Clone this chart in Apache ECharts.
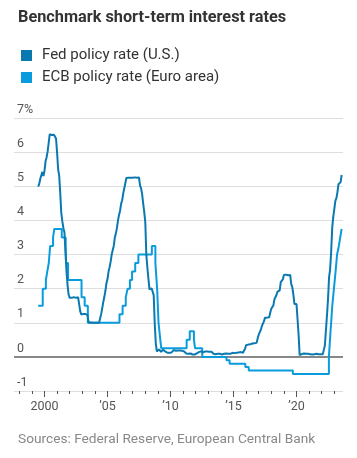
<!DOCTYPE html>
<html>
<head>
<meta charset="utf-8">
<script src="https://cdn.jsdelivr.net/npm/echarts@6/dist/echarts.min.js"></script>
<style>
html,body{margin:0;padding:0;background:#fff;}
#chart{width:357px;height:458px;}
</style>
</head>
<body>
<div id="chart"></div>
<script>
// ---- Data ----
const titleText = 'Benchmark short-term interest rates';
const sourceText = 'Sources: Federal Reserve, European Central Bank';
const seriesNames = ['Fed policy rate (U.S.)', 'ECB policy rate (Euro area)'];

// Fed: monthly values, starting July 1999
const fedStart = [1999, 7];
const fed1999 = [4.99, 5.07, 5.22, 5.20, 5.42, 5.30];
const fed2000 = [5.45, 5.73, 5.85, 6.02, 6.27, 6.53, 6.54, 6.50, 6.52, 6.51, 6.51, 6.40];
const fed2001 = [5.98, 5.49, 5.31, 4.80, 4.21, 3.97, 3.77, 3.65, 3.07, 2.49, 2.09, 1.82];
const fed2002 = [1.73, 1.74, 1.73, 1.75, 1.75, 1.75, 1.73, 1.74, 1.75, 1.75, 1.34, 1.24];
const fed2003 = [1.24, 1.26, 1.25, 1.26, 1.26, 1.22, 1.01, 1.03, 1.01, 1.01, 1.00, 0.98];
const fed2004 = [1.00, 1.01, 1.00, 1.00, 1.00, 1.03, 1.26, 1.43, 1.61, 1.76, 1.93, 2.16];
const fed2005 = [2.28, 2.50, 2.63, 2.79, 3.00, 3.04, 3.26, 3.50, 3.62, 3.78, 4.00, 4.16];
const fed2006 = [4.29, 4.49, 4.59, 4.79, 4.94, 4.99, 5.24, 5.25, 5.25, 5.25, 5.25, 5.24];
const fed2007 = [5.25, 5.26, 5.26, 5.25, 5.25, 5.25, 5.26, 5.02, 4.94, 4.76, 4.49, 4.24];
const fed2008 = [3.94, 2.98, 2.61, 2.28, 1.98, 2.00, 2.01, 2.00, 1.81, 0.97, 0.39, 0.16];
const fed2009 = [0.15, 0.22, 0.18, 0.15, 0.18, 0.21, 0.16, 0.16, 0.15, 0.12, 0.12, 0.12];
const fed2010 = [0.11, 0.13, 0.16, 0.20, 0.20, 0.18, 0.18, 0.19, 0.19, 0.19, 0.19, 0.18];
const fed2011 = [0.17, 0.16, 0.14, 0.10, 0.09, 0.09, 0.07, 0.10, 0.08, 0.07, 0.08, 0.07];
const fed2012 = [0.08, 0.10, 0.13, 0.14, 0.16, 0.16, 0.16, 0.13, 0.14, 0.16, 0.16, 0.16];
const fed2013 = [0.14, 0.15, 0.14, 0.15, 0.11, 0.09, 0.09, 0.08, 0.08, 0.09, 0.08, 0.09];
const fed2014 = [0.07, 0.07, 0.08, 0.09, 0.09, 0.10, 0.09, 0.09, 0.09, 0.09, 0.09, 0.12];
const fed2015 = [0.11, 0.11, 0.11, 0.12, 0.12, 0.13, 0.13, 0.14, 0.14, 0.12, 0.12, 0.24];
const fed2016 = [0.34, 0.38, 0.36, 0.37, 0.37, 0.38, 0.39, 0.40, 0.40, 0.40, 0.41, 0.54];
const fed2017 = [0.65, 0.66, 0.79, 0.90, 0.91, 1.04, 1.15, 1.16, 1.15, 1.15, 1.16, 1.30];
const fed2018 = [1.41, 1.42, 1.51, 1.69, 1.70, 1.82, 1.91, 1.91, 1.95, 2.19, 2.20, 2.27];
const fed2019 = [2.40, 2.40, 2.41, 2.42, 2.39, 2.38, 2.40, 2.13, 2.04, 1.83, 1.55, 1.55];
const fed2020 = [1.55, 1.58, 0.65, 0.05, 0.05, 0.08, 0.09, 0.10, 0.09, 0.09, 0.09, 0.09];
const fed2021 = [0.09, 0.08, 0.07, 0.07, 0.06, 0.08, 0.10, 0.09, 0.08, 0.08, 0.08, 0.08];
const fed2022 = [0.08, 0.08, 0.20, 0.33, 0.77, 1.21, 1.68, 2.33, 2.56, 3.08, 3.78, 4.10];
const fed2023 = [4.33, 4.57, 4.65, 4.83, 5.06, 5.08, 5.12, 5.33];

// ECB deposit facility rate: change dates (decimal years) and new rate
const ecbDates = [1999.50, 1999.86, 2000.11, 2000.22, 2000.34, 2000.45, 2000.68, 2000.78,
  2001.37, 2001.68, 2001.71, 2001.87, 2002.94, 2003.19, 2003.44, 2005.95, 2006.20,
  2006.45, 2006.60, 2006.78, 2006.95, 2007.20, 2007.45, 2008.52, 2008.80, 2008.86,
  2008.94, 2009.05, 2009.19, 2009.27, 2011.28, 2011.53, 2011.86, 2011.95, 2012.52,
  2014.44, 2014.69, 2015.94, 2016.21, 2019.71, 2022.57, 2022.70, 2022.84, 2022.97,
  2023.10, 2023.22, 2023.36, 2023.47, 2023.58, 2023.60];
const ecbRates = [1.50, 2.00, 2.25, 2.50, 2.75, 3.25, 3.50, 3.75,
  3.50, 3.25, 2.75, 2.25, 1.75, 1.50, 1.00, 1.25, 1.50,
  1.75, 2.00, 2.25, 2.50, 2.75, 3.00, 3.25, 2.75, 2.75,
  2.00, 1.00, 0.50, 0.25, 0.50, 0.75, 0.50, 0.25, 0.00,
  -0.10, -0.20, -0.30, -0.40, -0.50, 0.00, 0.75, 1.50, 2.00,
  2.50, 3.00, 3.25, 3.50, 3.75, 3.75];

const yTicks = [-1, 0, 1, 2, 3, 4, 5, 6, 7];
const xMinorTicks = [1998, 1999, 2000, 2001, 2002, 2003, 2004, 2005, 2006, 2007, 2008, 2009, 2010,
  2011, 2012, 2013, 2014, 2015, 2016, 2017, 2018, 2019, 2020, 2021, 2022, 2023];
const xMajorTicks = [2000, 2005, 2010, 2015, 2020];
const xLabels = ['2000', '\u201905', '\u201910', '\u201915', '\u201920'];

// ---- Build series data ----
const fedValues = [].concat(fed1999, fed2000, fed2001, fed2002, fed2003, fed2004, fed2005,
  fed2006, fed2007, fed2008, fed2009, fed2010, fed2011, fed2012, fed2013, fed2014, fed2015,
  fed2016, fed2017, fed2018, fed2019, fed2020, fed2021, fed2022, fed2023);
const fedData = fedValues.map((v, i) => [fedStart[0] + (fedStart[1] - 1 + i) / 12, v]);
const ecbData = ecbDates.map((d, i) => [d, ecbRates[i]]);

const FED_COLOR = '#0a79b0';
const ECB_COLOR = '#089cde';
const FONT = 'Roboto, "Noto Sans", sans-serif';

const chart = echarts.init(document.getElementById('chart'), null, {renderer: 'canvas'});
const xCommon = {
  type: 'value', min: 1997.58, max: 2023.69, position: 'bottom',
  splitLine: {show: false},
  axisLine: {show: false, onZero: false}
};
chart.setOption({
  animation: false,
  backgroundColor: '#fff',
  title: [
    {text: titleText, left: 13, top: 5,
      textStyle: {fontFamily: FONT, fontSize: 16.3, fontWeight: 'bold', color: '#333'}},
    {text: sourceText, left: 13, top: 428,
      textStyle: {fontFamily: FONT, fontSize: 13.7, fontWeight: 'normal', color: '#888'}}
  ],
  legend: {
    data: seriesNames, orient: 'vertical', left: 16, top: 43,
    icon: 'rect', itemWidth: 11, itemHeight: 11, itemGap: 7,
    textStyle: {fontFamily: FONT, fontSize: 15, lineHeight: 15, color: '#333', padding: [0, 0, 0, 5]},
    selectedMode: false
  },
  grid: {left: 14, right: 14, top: 118, bottom: 67, containLabel: false},
  xAxis: [
    Object.assign({}, xCommon, {
      axisTick: {show: true, length: 3, customValues: xMinorTicks, lineStyle: {color: '#555', width: 1}},
      axisLabel: {show: false}
    }),
    Object.assign({}, xCommon, {
      axisTick: {show: true, length: 6, customValues: xMajorTicks, lineStyle: {color: '#555', width: 1}},
      axisLabel: {show: true, customValues: xMajorTicks, margin: 9,
        fontFamily: FONT, fontSize: 12.5, color: '#555',
        formatter: v => xLabels[xMajorTicks.indexOf(Math.round(v))] || ''}
    })
  ],
  yAxis: {
    type: 'value', min: yTicks[0], max: yTicks[yTicks.length - 1], interval: 1,
    axisLine: {show: false}, axisTick: {show: false},
    splitLine: {show: true, lineStyle: {color: '#dedede', width: 1}},
    axisLabel: {
      inside: true, align: 'left', verticalAlign: 'bottom', margin: 3,
      fontFamily: FONT, fontSize: 12.5, color: '#555', padding: [0, 0, 2, 0],
      formatter: v => v === yTicks[yTicks.length - 1] ? v + '%' : String(v)
    }
  },
  series: [
    {
      name: seriesNames[1], type: 'line', xAxisIndex: 0, data: ecbData, step: 'end',
      showSymbol: false, symbol: 'none', color: ECB_COLOR,
      lineStyle: {color: ECB_COLOR, width: 2}, z: 2,
      markLine: {
        silent: true, symbol: 'none', label: {show: false},
        lineStyle: {color: '#888', width: 2, type: 'solid'},
        data: [{yAxis: 0}], z: 1
      }
    },
    {
      name: seriesNames[0], type: 'line', xAxisIndex: 0, data: fedData,
      showSymbol: false, symbol: 'none', color: FED_COLOR,
      lineStyle: {color: FED_COLOR, width: 2}, z: 3
    }
  ]
});
</script>
</body>
</html>
